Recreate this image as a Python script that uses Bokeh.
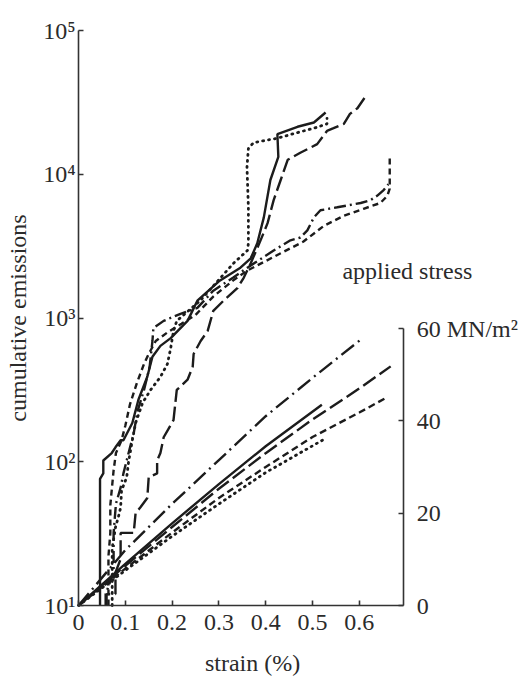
import math
from bokeh.plotting import figure
from bokeh.models import Range1d, LinearAxis, LinearScale, FixedTicker, Label
from bokeh.embed import file_html
from bokeh.resources import INLINE

# ---------------- data ----------------
# cumulative emissions (counts) vs strain (%)
solid_x = [0.046, 0.046, 0.053, 0.053, 0.071, 0.079, 0.090, 0.096, 0.115, 0.128, 0.147, 0.158, 0.175,
           0.197, 0.233, 0.254, 0.300, 0.346, 0.368, 0.382, 0.396, 0.410, 0.427, 0.425, 0.468, 0.503, 0.528]
solid_y = [10, 76, 83, 102, 115, 126, 141, 141, 186, 270, 390, 537, 640,
           724, 955, 1320, 1800, 2240, 2600, 3310, 5010, 9120, 13200, 19000, 21400, 22900, 26900]

dotted_x = [0.072, 0.072, 0.079, 0.085, 0.090, 0.092, 0.103, 0.107, 0.115, 0.122, 0.137, 0.154, 0.175, 0.190,
            0.197, 0.203, 0.210, 0.260, 0.331, 0.361, 0.363, 0.363, 0.360, 0.363, 0.374, 0.425, 0.468, 0.503,
            0.531, 0.531]
dotted_y = [10, 25, 35, 41, 48, 63, 78, 100, 141, 186, 257, 316, 389, 479,
            617, 813, 955, 1320, 2400, 2950, 3310, 5890, 11200, 15100, 16600, 17800, 19500, 20900,
            22400, 24500]

dashdot_x = [0.058, 0.058, 0.075, 0.075, 0.080, 0.090, 0.096, 0.107, 0.118, 0.126, 0.140, 0.152, 0.158, 0.160,
             0.182, 0.218, 0.254, 0.288, 0.330, 0.361, 0.417, 0.453, 0.474, 0.489, 0.503, 0.517, 0.553, 0.603,
             0.624, 0.638, 0.652, 0.662]
dashdot_y = [10, 12, 17, 32, 51, 66, 83, 115, 158, 224, 316, 457, 692, 851,
             955, 1070, 1175, 1550, 1905, 2240, 2950, 3470, 3630, 4070, 5010, 5620, 5890, 6310,
             6610, 7080, 7760, 8510]

dash_x = [0.064, 0.064, 0.068, 0.068, 0.075, 0.080, 0.092, 0.100, 0.110, 0.125, 0.140, 0.150, 0.165, 0.190,
          0.220, 0.250, 0.288, 0.330, 0.361, 0.432, 0.480, 0.524, 0.566, 0.609, 0.645, 0.660, 0.665, 0.665]
dash_y = [10, 22, 32, 50, 87, 115, 141, 178, 251, 355, 479, 562, 692, 794,
          912, 1050, 1410, 1820, 2140, 2820, 3390, 4370, 5130, 5750, 6310, 7080, 7940, 13200]

longdash_x = [0.060, 0.060, 0.079, 0.079, 0.090, 0.090, 0.118, 0.122, 0.132, 0.147, 0.150, 0.168, 0.168, 0.175,
              0.182, 0.203, 0.210, 0.233, 0.244, 0.246, 0.261, 0.276, 0.288, 0.310, 0.340, 0.353, 0.368, 0.389,
              0.404, 0.417, 0.432, 0.447, 0.474, 0.510, 0.531, 0.545, 0.567, 0.580, 0.596, 0.611]
longdash_y = [10, 12, 12, 17, 21, 32, 32, 44, 48, 56, 78, 83, 102, 115,
              148, 195, 316, 372, 457, 562, 692, 813, 1120, 1320, 1620, 1905, 2400, 3470,
              4570, 6610, 9120, 12600, 14100, 16200, 20000, 20900, 22400, 26300, 28800, 33900]

# applied stress (MN/m^2) vs strain (%)
st_dashdot_x = [0, 0.1, 0.2, 0.3, 0.4, 0.5, 0.603]
st_dashdot_y = [0, 12, 22, 31.5, 41, 49.3, 57.6]
st_solid_x = [0, 0.1, 0.2, 0.3, 0.4, 0.52]
st_solid_y = [0, 9, 17.8, 26.3, 34.5, 43.5]
st_longdash_x = [0, 0.1, 0.2, 0.3, 0.4, 0.5, 0.6, 0.667]
st_longdash_y = [0, 8.6, 17, 25.3, 33, 40.3, 47, 51.8]
st_dash_x = [0, 0.1, 0.2, 0.3, 0.4, 0.5, 0.6, 0.654]
st_dash_y = [0, 8, 15.8, 23.3, 30, 36.5, 41.8, 44.8]
st_dotted_x = [0, 0.1, 0.2, 0.3, 0.4, 0.528]
st_dotted_y = [0, 7.6, 15, 22, 28.8, 36.2]

x_ticks = [0, 0.1, 0.2, 0.3, 0.4, 0.5, 0.6]
x_tick_labels = ["0", "0.1", "0.2", "0.3", "0.4", "0.5", "0.6"]
y_ticks = [10, 100, 1000, 10000, 100000]
y_tick_labels = ["10\u00b9", "10\u00b2", "10\u00b3", "10\u2074", "10\u2075"]
s_ticks = [0, 20, 40, 60]
s_tick_labels = ["0", "20", "40", "60 MN/m\u00b2"]

y_title = "cumulative emissions"
x_title = "strain (%)"
s_title = "applied stress"

strain_min, strain_max = 0, 0.695      # strain axis; the stress axis stands at its end
count_min, count_max = 10, 1e5
stress_min, stress_max = 0, 60

# ---------------- figure ----------------
FONT = "Liberation Serif"
INK = "#1c1c1c"
TXT = "#2b2b2b"
FS = "24px"

# The frame fills the whole canvas; the three axes stand at fixed data
# locations inside it, so that every text around them stays inside the frame.
p = figure(width=526, height=676,
           x_range=Range1d(-0.16667, 0.95726), y_range=Range1d(10 ** 0.5061, 10 ** 5.2087),
           y_axis_type="log", output_backend="svg", toolbar_location=None,
           min_border_left=0, min_border_right=0, min_border_top=0, min_border_bottom=0)
p.extra_y_ranges = {"stress": Range1d(-15.379, 131.05)}
p.extra_y_scales = {"stress": LinearScale()}

p.xgrid.visible = False
p.ygrid.visible = False
p.outline_line_color = None
p.background_fill_color = "white"
p.border_fill_color = "white"

W = 2.4
p.line(solid_x, solid_y, line_color=INK, line_width=W)
p.line(dotted_x, dotted_y, line_color=INK, line_width=W + 0.4, line_dash="1 5", line_cap="round")
p.line(dashdot_x, dashdot_y, line_color=INK, line_width=W, line_dash="12 4 2 4")
p.line(dash_x, dash_y, line_color=INK, line_width=W, line_dash="6 4")
p.line(longdash_x, longdash_y, line_color=INK, line_width=W, line_dash="15 5")

p.line(st_dashdot_x, st_dashdot_y, y_range_name="stress", line_color=INK, line_width=W, line_dash="16 5 2 5")
p.line(st_solid_x, st_solid_y, y_range_name="stress", line_color=INK, line_width=W)
p.line(st_longdash_x, st_longdash_y, y_range_name="stress", line_color=INK, line_width=W, line_dash="15 5")
p.line(st_dash_x, st_dash_y, y_range_name="stress", line_color=INK, line_width=W, line_dash="7 4")
p.line(st_dotted_x, st_dotted_y, y_range_name="stress", line_color=INK, line_width=W + 0.4,
       line_dash="1 5", line_cap="round")


def style_axis(ax, standoff):
    ax.axis_line_color = "#333333"
    ax.axis_line_width = 1.6
    ax.major_tick_line_color = "#333333"
    ax.major_tick_line_width = 1.6
    ax.major_tick_in = 5
    ax.major_tick_out = 0
    ax.minor_tick_line_color = None
    ax.major_label_text_font = FONT
    ax.major_label_text_font_size = FS
    ax.major_label_text_color = TXT
    ax.major_label_standoff = standoff


# left: log axis of cumulative emissions, at zero strain
ya = p.yaxis[0]
ya.fixed_location = strain_min
ya.bounds = (count_min, count_max)
ya.ticker = FixedTicker(ticks=y_ticks, minor_ticks=[])
ya.major_label_overrides = {t: l for t, l in zip(y_ticks, y_tick_labels)}
style_axis(ya, 3)

# bottom: strain axis, at the lowest count
xa = p.xaxis[0]
xa.fixed_location = count_min
xa.bounds = (strain_min, strain_max)
xa.ticker = FixedTicker(ticks=x_ticks, minor_ticks=[])
xa.major_label_overrides = {t: l for t, l in zip(x_ticks, x_tick_labels)}
style_axis(xa, 9)

# right: applied stress axis, at the end of the strain axis
ra = LinearAxis(y_range_name="stress", fixed_location=strain_max, bounds=(stress_min, stress_max),
                ticker=FixedTicker(ticks=s_ticks, minor_ticks=[]))
ra.major_label_overrides = {t: l for t, l in zip(s_ticks, s_tick_labels)}
style_axis(ra, 13)
p.add_layout(ra, "right")

# axis titles
p.add_layout(Label(x=-0.130, y=1000, text=y_title, angle=math.pi / 2,
                   text_font=FONT, text_font_size=FS, text_color=TXT,
                   text_align="center", text_baseline="alphabetic"))
p.add_layout(Label(x=0.372, y=3.95, text=x_title,
                   text_font=FONT, text_font_size=FS, text_color=TXT,
                   text_align="center", text_baseline="alphabetic"))
p.add_layout(Label(x=0.564, y=72.5, y_range_name="stress", text=s_title,
                   text_font=FONT, text_font_size=FS, text_color=TXT,
                   text_align="left", text_baseline="alphabetic"))

open("out.html", "w").write(file_html(p, INLINE))
